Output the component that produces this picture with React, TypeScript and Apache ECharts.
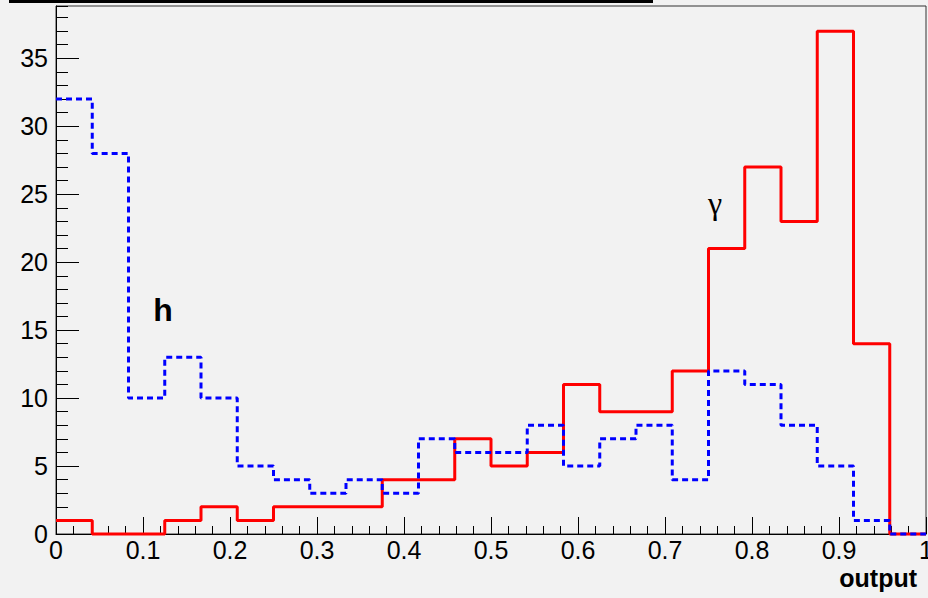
import React, { useEffect, useRef } from "react";
import * as echarts from "echarts";

const binCount = 24;
const gammaCounts = [1, 0, 0, 1, 2, 1, 2, 2, 2, 4, 4, 7, 5, 6, 11, 9, 9, 12, 21, 27, 23, 37, 14, 0];
const hadronCounts = [32, 28, 10, 13, 10, 5, 4, 3, 4, 3, 7, 6, 6, 8, 5, 7, 8, 4, 12, 11, 8, 5, 1, 0];
const xLabel = "output";
const gammaLabel = "γ";
const hadronLabel = "h";

const FONT = "'Liberation Sans', Arial, sans-serif";

function toSteps(counts: number[]): number[][] {
  const pts = counts.map((v, i) => [i / binCount, v]);
  pts.push([1, counts[counts.length - 1]]);
  return pts;
}

export default function App() {
  const ref = useRef<HTMLDivElement>(null);
  useEffect(() => {
    document.body.style.margin = "0";
    const chart = echarts.init(ref.current!, null, { renderer: "svg" });
    const yMax = 37 * 1.05;
    chart.setOption({
      animation: false,
      backgroundColor: "#f2f2f2",
      grid: {
        left: 56,
        right: 2,
        top: 6,
        bottom: 64,
        containLabel: false,
        outerBoundsMode: "none",
        show: true,
        borderColor: "#333",
        borderWidth: 1,
        backgroundColor: "#f2f2f2",
      },
      xAxis: {
        type: "value",
        min: 0,
        max: 1,
        interval: 0.1,
        axisLine: { show: true, onZero: false, lineStyle: { color: "#000", width: 1 } },
        axisTick: { show: true, inside: true, length: 17, lineStyle: { color: "#000" } },
        minorTick: { show: true, splitNumber: 5, length: 8, lineStyle: { color: "#000" } },
        splitLine: { show: false },
        axisLabel: { margin: 3, fontSize: 25, color: "#000", fontFamily: FONT, hideOverlap: false },
      },
      yAxis: [
        {
          type: "value",
          position: "left",
          min: 0,
          max: yMax,
          interval: 5,
          axisLine: { show: true, lineStyle: { color: "#000", width: 1 } },
          axisTick: { show: true, inside: true, length: 23, lineStyle: { color: "#000" } },
          splitLine: { show: false },
          axisLabel: { margin: 8, fontSize: 25, color: "#000", fontFamily: FONT, showMaxLabel: false },
        },
        {
          type: "value",
          position: "left",
          min: 0,
          max: yMax,
          interval: 1,
          axisLine: { show: false },
          axisTick: { show: true, inside: true, length: 12, lineStyle: { color: "#000" } },
          splitLine: { show: false },
          axisLabel: { show: false },
        },
      ],
      series: [
        {
          name: "gamma",
          type: "line",
          step: "end",
          symbol: "none",
          clip: false,
          data: toSteps(gammaCounts),
          lineStyle: { color: "#ff0000", width: 3 },
          z: 3,
        },
        {
          name: "hadron",
          type: "line",
          step: "end",
          symbol: "none",
          clip: false,
          data: toSteps(hadronCounts),
          lineStyle: { color: "#0000ff", width: 3, type: [6, 4] },
          z: 4,
        },
      ],
      graphic: [
        { type: "rect", left: 9, top: 0, shape: { width: 644, height: 3 }, style: { fill: "#000" } },
        {
          type: "text",
          x: 163,
          y: 310,
          style: { text: hadronLabel, font: `bold 32px ${FONT}`, fill: "#000", align: "center", verticalAlign: "middle" },
        },
        {
          type: "text",
          x: 715,
          y: 203,
          style: { text: gammaLabel, font: "32px 'Liberation Serif', serif", fill: "#000", align: "center", verticalAlign: "middle" },
        },
        {
          type: "text",
          x: 917,
          y: 578,
          style: { text: xLabel, font: `bold 25px ${FONT}`, fill: "#000", align: "right", verticalAlign: "middle" },
        },
      ],
    });
    return () => chart.dispose();
  }, []);
  return <div ref={ref} style={{ width: 928, height: 598 }} />;
}
